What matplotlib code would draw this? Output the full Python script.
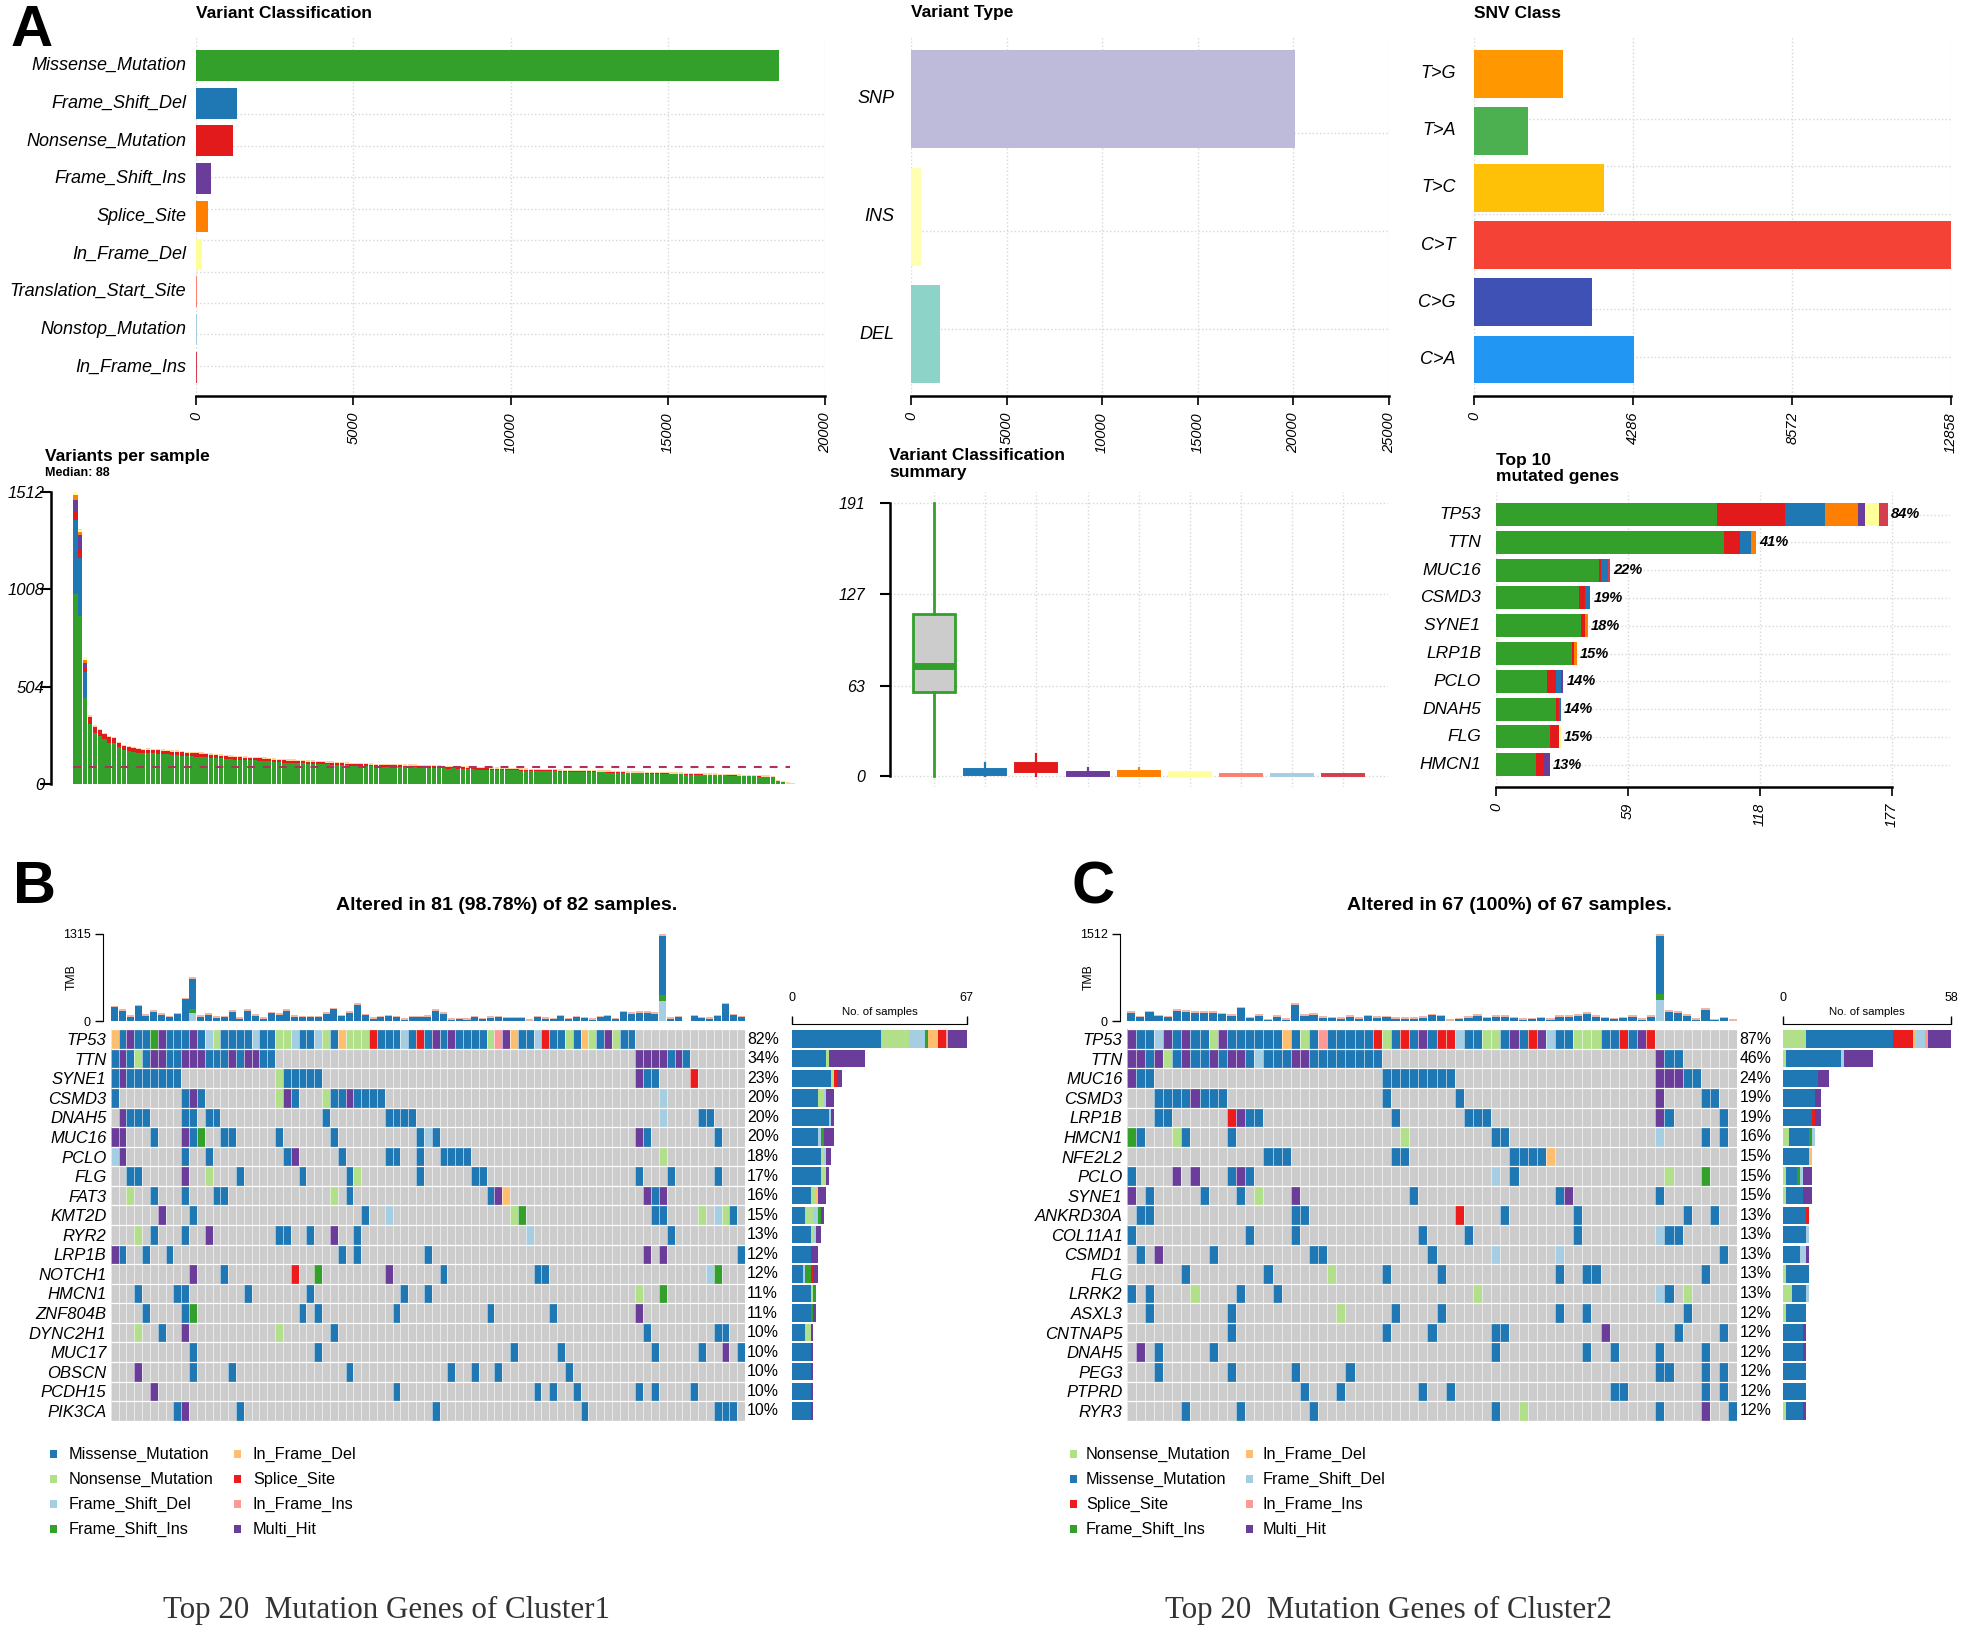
import numpy as np
import matplotlib
matplotlib.use("Agg")
import matplotlib.pyplot as plt
from matplotlib.colors import ListedColormap
from matplotlib.patches import Rectangle

plt.rcParams['font.family'] = ['Liberation Sans', 'DejaVu Sans']

W, H = 1965, 1636

# top row
class_names = ["Missense_Mutation", "Frame_Shift_Del", "Nonsense_Mutation", "Frame_Shift_Ins", "Splice_Site",
               "In_Frame_Del", "Translation_Start_Site", "Nonstop_Mutation", "In_Frame_Ins"]
class_values = [18550, 1294, 1190, 466, 380, 190, 30, 20, 25]
class_colors = ["#33A02C", "#1F78B4", "#E31A1C", "#6A3D9A", "#FF7F00", "#FFFF99", "#FB8072", "#A6CEE3", "#D53E4F"]
type_names = ["SNP", "INS", "DEL"]
type_values = [20100, 507, 1520]
type_colors = ["#BEBADA", "#FFFFB3", "#8DD3C7"]
snv_names = ["T>G", "T>A", "T>C", "C>T", "C>G", "C>A"]
snv_values = [2389, 1456, 3490, 12858, 3172, 4311]
snv_colors = ["#FF9800", "#4CAF50", "#FFC107", "#F44336", "#3F51B5", "#2196F3"]

# variants per sample
var_total = [1512, 1315, 655, 353, 300, 283, 262, 245, 241, 215,
             200, 193, 188, 183, 180, 182, 180, 178, 176, 175,
             172, 172, 168, 165, 163, 162, 160, 158, 155, 152,
             150, 148, 145, 142, 142, 140, 138, 138, 136, 135,
             133, 130, 128, 126, 125, 124, 122, 122, 120, 120,
             118, 116, 115, 114, 113, 112, 110, 108, 106, 105,
             105, 104, 103, 102, 101, 100, 100, 100, 99, 98,
             98, 97, 96, 95, 95, 94, 92, 90, 92, 91,
             90, 88, 87, 86, 85, 85, 84, 83, 82, 82,
             80, 80, 79, 78, 77, 76, 75, 75, 74, 74,
             73, 72, 72, 71, 71, 70, 70, 69, 68, 68,
             67, 66, 65, 64, 63, 63, 62, 62, 61, 60,
             60, 59, 59, 58, 57, 57, 56, 55, 54, 54,
             53, 52, 52, 51, 50, 49, 48, 47, 46, 45,
             44, 43, 42, 41, 38, 20, 12, 5, 2]
var_missense = [981, 871, 447, 312, 262, 248, 232, 214, 210, 190,
                178, 170, 165, 160, 158, 160, 158, 156, 155, 154,
                150, 152, 147, 144, 143, 142, 141, 139, 137, 134,
                132, 130, 127, 125, 125, 123, 122, 122, 120, 119,
                117, 114, 112, 110, 110, 109, 107, 107, 105, 105,
                104, 102, 101, 100, 99, 98, 96, 95, 93, 92,
                92, 91, 90, 89, 88, 88, 88, 88, 87, 86,
                86, 85, 84, 83, 83, 83, 81, 79, 81, 80,
                79, 77, 76, 75, 75, 75, 74, 73, 72, 72,
                70, 70, 69, 68, 68, 67, 66, 66, 65, 65,
                64, 63, 63, 62, 62, 62, 62, 61, 60, 60,
                59, 58, 57, 56, 55, 55, 55, 55, 54, 53,
                53, 52, 52, 51, 50, 50, 49, 48, 48, 48,
                47, 46, 46, 45, 44, 43, 42, 41, 40, 40,
                39, 38, 37, 36, 34, 18, 11, 4, 1]
top3_fsdel = [384, 300, 131]
top3_nonsense = [43, 39, 20]
top3_fsins = [61, 78, 26]
top3_splice = [26, 17, 17]
top3_ifd = [17, 10, 14]

# classification summary boxes, same order as class_names
box_q1 = [58.6, 0.5, 2.6, 0, 0, 0, 0, 0, 0]
box_med = [77, 2, 5.8, 1, 1, 1, 0.5, 0.5, 0.5]
box_q3 = [113.5, 4.7, 9, 2.6, 3.3, 2.8, 1.4, 1.4, 1.4]
box_lo = [0, 0, 0, 0, 0, 0, 0, 0, 0]
box_hi = [191, 9, 15.4, 5.4, 5.4, 2.8, 1.4, 1.4, 1.4]

# top 10 genes
top_genes = ["TP53", "TTN", "MUC16", "CSMD3", "SYNE1", "LRP1B", "PCLO", "DNAH5", "FLG", "HMCN1"]
top_missense = [99, 102, 46, 37, 38, 34, 23, 27, 24, 18]
top_nonsense = [30, 7, 1, 3, 2, 1, 4, 1, 4, 3]
top_fsdel = [18, 5, 3, 2, 0, 0, 2, 1, 0, 0]
top_splice = [15, 2, 0, 0, 1, 1, 0, 0, 0, 0]
top_fsins = [3, 0, 0, 0, 0, 0, 1, 0, 0, 3]
top_ifd = [6, 0, 0, 0, 0, 0, 0, 0, 1, 0]
top_ifi = [4, 0, 1, 0, 0, 0, 0, 0, 0, 0]
top_pct = ["84%", "41%", "22%", "19%", "18%", "15%", "14%", "14%", "15%", "13%"]

# oncoplot cluster 1
genes_b = ["TP53", "TTN", "SYNE1", "CSMD3", "DNAH5", "MUC16", "PCLO", "FLG", "FAT3", "KMT2D", "RYR2", "LRP1B",
           "NOTCH1", "HMCN1", "ZNF804B", "DYNC2H1", "MUC17", "OBSCN", "PCDH15", "PIK3CA"]
pct_b = ["82%", "34%", "23%", "20%", "20%", "20%", "18%", "17%", "16%", "15%", "13%", "12%", "12%", "11%", "11%",
         "10%", "10%", "10%", "10%", "10%"]
rows_b = [
    "0F 1M 2H 3M 4M 5I 6H 7M 8M 9M 10H 11M 12D 13N 14M 15M 16M 17M 18D 19M 20M 21N 22N 23D 24M 25M 26D 27N 28M "
    "29F 30N 31N 32N 33S 34M 35M 36M 37D 38M 39S 40M 41H 42M 43H 44M 45M 46M 47M 48N 49R 50H 51F 52M 53M 54D 55S "
    "56M 57M 58N 59M 60F 61N 62M 63H 64N 65M 66M",
    "0M 1H 2M 3N 4M 5H 6H 7M 8M 9H 10H 11H 12M 13M 14M 15H 16M 17H 18H 19M 20M 67H 68H 69H 70H 71M 72H 73M",
    "0M 1H 2M 3M 4M 5M 6M 7M 8M 21N 22M 23M 24M 25M 26M 67H 68M 69M 74S",
    "0M 9M 10H 11M 21N 22H 23M 27N 28M 29M 30H 31M 32M 33M 34M 70D",
    "1H 2M 3M 4M 9M 10M 12M 13M 27M 35M 36M 37M 38M 70D 75M 76M",
    "0H 1H 5M 9H 10M 11I 14M 15M 21M 28M 39M 40D 41M 67H 68M 77M",
    "0D 1H 9M 12M 22M 23H 29M 35M 36M 39M 42M 43M 44M 45M 70N",
    "2M 3M 9H 12N 16M 24M 30M 31N 39M 46M 47M 67M 71M 77M",
    "2N 5M 9M 13M 14M 28N 30M 48M 49H 50F 68H 69M 70H",
    "6H 10M 32M 35D 51N 52I 69M 70M 75N 77D 78N 79M",
    "3N 5M 9M 12H 21M 22M 25M 28H 31M 53D 71M",
    "0H 1M 4M 7M 29M 31M 40M 68H 70H 80M",
    "10H 14M 23S 26I 35H 42M 54M 55M 76D 77I",
    "3M 8M 9M 17M 25M 37M 40M 67N 70I",
    "4M 9M 10I 24M 26M 36M 48M 56M 67H",
    "3N 6M 9H 21N 28M 68M 77M 78M",
    "10M 26M 51M 57M 69M 75M 78H 80M",
    "3H 10M 15M 30M 43M 46M 49M 58M",
    "5H 36M 54M 56M 59M 67M 69M 74M",
    "8M 9H 16M 41M 60M 77M 78M 79M",
]
order_b = "MNDIFSRH"
tmb_b = [227, 181, 86, 242, 101, 161, 116, 76, 121, 348, 660, 86, 116, 71, 81, 161, 55, 176, 101, 60,
         141, 116, 181, 86, 81, 81, 81, 131, 197, 96, 146, 267, 106, 55, 76, 91, 81, 40, 76, 76,
         86, 181, 131, 45, 50, 45, 76, 50, 71, 76, 66, 66, 66, 25, 81, 55, 50, 96, 50, 81,
         66, 40, 76, 91, 50, 156, 136, 151, 146, 136, 1315, 55, 81, 5, 91, 66, 55, 91, 277, 106, 81]
tmb_b_base = {10: (126, 50), 70: (300, 90)}

# oncoplot cluster 2
genes_c = ["TP53", "TTN", "MUC16", "CSMD3", "LRP1B", "HMCN1", "NFE2L2", "PCLO", "SYNE1", "ANKRD30A", "COL11A1",
           "CSMD1", "FLG", "LRRK2", "ASXL3", "CNTNAP5", "DNAH5", "PEG3", "PTPRD", "RYR3"]
pct_c = ["87%", "46%", "24%", "19%", "19%", "16%", "15%", "15%", "15%", "13%", "13%", "13%", "13%", "13%", "12%",
         "12%", "12%", "12%", "12%", "12%"]
rows_c = [
    "0H 1M 2M 3D 4H 5M 6H 7M 8M 9N 10H 11M 12M 13M 14M 15M 16M 17F 18M 19N 20M 21R 22M 23M 24M 25M 26M 27S 28N "
    "29M 30S 31M 32H 33M 34S 35S 36D 37M 38M 39N 40N 41M 42H 43M 44S 45H 46D 47M 48M 49N 50N 51N 52M 53M 54S 55M "
    "56H 57S",
    "0H 1H 2M 3H 4N 5M 6H 7M 8M 9H 10M 11H 12H 13M 14D 15M 16M 17M 18H 19H 20M 21M 22M 23M 24M 25M 26M 27M 58H "
    "59M 60M",
    "0H 1M 2M 28M 29M 30M 31M 32M 33M 34M 35M 58H 59H 60H 61M 62M",
    "3M 4M 5M 6M 7H 8M 9M 10M 28M 36M 58H 63M 64M",
    "3M 4M 11S 12H 13M 14M 29M 37M 38M 39M 58H 59M 65M",
    "0I 1M 5N 6M 11M 30N 40M 41M 58D 63M 65M",
    "15M 16M 17M 29M 30M 42M 43M 44M 45M 46F",
    "0M 5H 7H 11M 12H 13M 40D 42M 59N 63I",
    "0H 2M 8M 12M 14N 18H 31M 47M 48H 58M",
    "1M 2M 18M 19M 36S 41M 49M 61M 64M",
    "0M 13M 18M 32M 37M 49M 58D 59M 60M",
    "1M 3H 9M 20M 21M 33M 40D 47D 65M",
    "6M 15M 22N 28M 34M 47M 50M 51M 63M",
    "0M 2M 7N 12M 16M 38N 58D 59M 61N",
    "2M 11M 23N 29M 34M 47M 50M 61M",
    "11M 28M 33M 40M 41M 52H 60M 65M",
    "1H 3M 9M 40M 50M 53M 58M 63M",
    "3M 11M 18M 24M 58M 59M 63M 65M",
    "19M 23M 32M 35M 53M 54M 63M 65M",
    "6M 12M 20M 40M 43N 58M 63H 66M",
]
order_c = "NMSIFDRH"
tmb_c = [172, 92, 178, 109, 92, 201, 190, 167, 172, 172, 144, 115, 247, 75, 115, 35, 98, 52, 305, 121,
         132, 86, 75, 69, 98, 69, 109, 80, 92, 69, 69, 63, 86, 126, 109, 29, 58, 80, 115, 75,
         98, 103, 75, 46, 58, 75, 46, 103, 103, 115, 150, 103, 75, 58, 75, 98, 52, 98, 1512,
         184, 172, 115, 46, 218, 35, 75, 29]
tmb_c_base = {58: (373, 96)}

code_colors = {"M": "#1F78B4", "N": "#B2DF8A", "D": "#A6CEE3", "I": "#33A02C", "F": "#FDBF6F",
               "S": "#EC1C1C", "R": "#FB9A99", "H": "#6A3D9A"}
code_names = {"M": "Missense_Mutation", "N": "Nonsense_Mutation", "D": "Frame_Shift_Del", "I": "Frame_Shift_Ins",
              "F": "In_Frame_Del", "S": "Splice_Site", "R": "In_Frame_Ins", "H": "Multi_Hit"}
legend_b = ["M", "N", "D", "I", "F", "S", "R", "H"]
legend_c = ["N", "M", "S", "I", "F", "D", "R", "H"]

fig = plt.figure(figsize=(W / 100, H / 100), dpi=100)
GRID = dict(color="#D8D8D8", linestyle=":", linewidth=1.0, zorder=0)


def px_axes(l, t, r, b):
    return fig.add_axes([l / W, 1 - b / H, (r - l) / W, (b - t) / H])


def ftext(x, y, s, **kw):
    kw.setdefault("va", "center")
    return fig.text(x / W, 1 - y / H, s, **kw)


def clean(ax, keep=()):
    for name, sp in ax.spines.items():
        sp.set_visible(name in keep)


def italic_ticks(ax, size=10.5):
    for t in ax.get_xticklabels() + ax.get_yticklabels():
        t.set_fontstyle("italic")
        t.set_fontsize(size)


def hbar_panel(l, r, xmax, ticks, names, values, colors, first, step, height, hgrid, label_x, title):
    ax = px_axes(l, 37, r, 396)
    y = np.arange(len(names))
    ax.set_xlim(0, xmax)
    ax.set_ylim((396 - first) / step, (37 - first) / step)
    for g in hgrid:
        ax.axhline((g - first) / step, **GRID)
    for t in ticks:
        ax.axvline(t, **GRID)
    ax.barh(y, values, height=height / step, color=colors, zorder=2)
    clean(ax, ["bottom"])
    ax.spines["bottom"].set_linewidth(1.8)
    ax.set_xticks(ticks)
    ax.tick_params(axis="x", length=6.5, width=1.2, labelrotation=90, pad=5)
    italic_ticks(ax)
    ax.set_yticks([])
    for i, name in enumerate(names):
        ftext(label_x, first + step * i, name, ha="right", style="italic", size=13)
    ftext(l, 13, title, weight="bold", size=12.5)
    return ax


hbar_panel(196, 825, 20000, [0, 5000, 10000, 15000, 20000], class_names, class_values, class_colors,
           65.5, 37.7, 31, [114, 145.7, 177, 209, 240, 272, 303, 334, 366], 186, "Variant Classification")
hbar_panel(911, 1388.6, 25000, [0, 5000, 10000, 15000, 20000, 25000], type_names, type_values, type_colors,
           98.8, 117.7, 98, [133, 231, 329], 894, "Variant Type")
hbar_panel(1474.5, 1951, 12858, [0, 4286, 8572, 12858], snv_names, snv_values, snv_colors,
           73.8, 57.1, 47.5, [119, 166, 213.7, 261.7, 309.3, 356.7], 1456, "SNV Class")

# variants per sample
ax = px_axes(73, 491.7, 795, 784)
x = np.arange(len(var_total)) + 0.5
total = np.array(var_total, dtype=float)
miss = np.array(var_missense, dtype=float)
ax.bar(x, miss, width=0.88, color="#33A02C", zorder=2)
ax.bar(x, total - miss, bottom=miss, width=0.88, color="#E31A1C", zorder=2)
ax.bar(x, 7, bottom=total - 4, width=0.88, color="#FDD49E", zorder=3)
bottom = miss[:3].copy()
for seg, col in zip([top3_fsdel, top3_nonsense, top3_fsins, top3_splice, top3_ifd],
                    ["#1F78B4", "#E31A1C", "#6A3D9A", "#FF7F00", "#FFFF99"]):
    ax.bar(x[:3], seg, bottom=bottom, width=0.88, color=col, zorder=4)
    bottom = bottom + np.array(seg)
ax.plot([0, 148], [88, 88], color="#B03060", lw=1.5, linestyle=(0, (3.8, 3.8)), zorder=5)
ax.set_xlim(0, 149)
ax.set_ylim(0, 1512)
clean(ax, ["left"])
ax.spines["left"].set_position(("outward", 15.5))
ax.spines["left"].set_linewidth(1.8)
ax.set_xticks([])
ax.set_yticks([0, 504, 1008, 1512])
ax.tick_params(axis="y", length=7.8, width=1.5, pad=-3)
italic_ticks(ax, 12)
ftext(45, 456, "Variants per sample", weight="bold", size=12.5)
ftext(45, 473, "Median: 88", weight="bold", size=9)

# classification summary
ax = px_axes(890, 492, 1388, 787)
ax.set_xlim(0.14, 9.87)
ax.set_ylim(-7.7, 198.7)
for t in range(1, 10):
    ax.axvline(t, **GRID)
for t in [0, 63, 127, 191]:
    ax.axhline(t, **GRID)
stats = [dict(q1=a, med=b, q3=c, whislo=d, whishi=e, fliers=[])
         for a, b, c, d, e in zip(box_q1, box_med, box_q3, box_lo, box_hi)]
parts = ax.bxp(stats, positions=range(1, 10), widths=0.82, patch_artist=True, showcaps=False, showfliers=False,
               manage_ticks=False, zorder=3)
for i, col in enumerate(class_colors):
    parts["boxes"][i].set(facecolor="#CCCCCC" if i == 0 else col, edgecolor=col, linewidth=2 if i == 0 else 1.4)
    parts["medians"][i].set(color=col, linewidth=5 if i == 0 else 1.4)
    for w in parts["whiskers"][2 * i:2 * i + 2]:
        w.set(color=col, linewidth=2 if i == 0 else 1.6)
clean(ax, ["left"])
ax.spines["left"].set_bounds(0, 191)
ax.spines["left"].set_linewidth(1.8)
ax.set_xticks([])
ax.set_yticks([0, 63, 127, 191])
ax.tick_params(axis="y", length=7, width=1.5, pad=11)
italic_ticks(ax, 11.5)
ftext(889, 456, "Variant Classification", weight="bold", size=12.5)
ftext(889, 472, "summary", weight="bold", size=12.5)

# top 10 genes
ax = px_axes(1496, 492, 1950, 786.7)
step = 27.8
ax.set_xlim(0, 177 * (1950 - 1496) / (1892 - 1496))
ax.set_ylim((786.7 - 514.5) / step, (492 - 514.5) / step)
y = np.arange(len(top_genes))
for t in [0, 59, 118, 177]:
    ax.axvline(t, **GRID)
for v in y:
    ax.axhline(v, **GRID)
left = np.zeros(len(top_genes))
for seg, col in zip([top_missense, top_nonsense, top_fsdel, top_splice, top_fsins, top_ifd, top_ifi],
                    ["#33A02C", "#E31A1C", "#1F78B4", "#FF7F00", "#6A3D9A", "#FFFF99", "#D53E4F"]):
    ax.barh(y, seg, left=left, height=23 / step, color=col, zorder=2)
    left = left + np.array(seg)
for i, s in enumerate(top_pct):
    ax.text(left[i] + 1.5, i, s, style="italic", weight="bold", size=10.5, va="center", zorder=4)
clean(ax, ["bottom"])
ax.spines["bottom"].set_bounds(0, 177)
ax.spines["bottom"].set_linewidth(1.8)
ax.set_xticks([0, 59, 118, 177])
ax.set_yticks([])
ax.tick_params(axis="x", length=6.5, width=1.2, labelrotation=90, pad=5)
italic_ticks(ax)
for i, g in enumerate(top_genes):
    ftext(1481, 514.5 + step * i, g, ha="right", style="italic", size=12.5)
ftext(1496, 460.7, "Top 10", weight="bold", size=12.5)
ftext(1496, 477, "mutated genes", weight="bold", size=12.5)


def oncoplot(l, r, axis_x, tmb_label_x, bar_l, bar_r, genes, pct, rows, order, tmb, tmb_base, title, title_x):
    n_col = len(tmb)
    codes = list("MNDIFSRH")
    mat = np.zeros((len(genes), n_col), dtype=int)
    for i, row in enumerate(rows):
        for tok in row.split():
            mat[i, int(tok[:-1])] = codes.index(tok[-1]) + 1
    cmap = ListedColormap(["#CCCCCC"] + [code_colors[c] for c in codes])

    ax = px_axes(l, 1029.3, r, 1420.7)
    ax.pcolormesh(mat, cmap=cmap, vmin=0, vmax=8)
    ax.vlines(np.arange(n_col + 1), 0, len(genes), color="white", linewidth=0.4)
    ax.hlines(np.arange(len(genes) + 1), 0, n_col, color="white", linewidth=0.9)
    ax.set_xlim(0, n_col)
    ax.set_ylim(len(genes), 0)
    clean(ax)
    ax.set_xticks([])
    ax.set_yticks(np.arange(len(genes)) + 0.5)
    ax.set_yticklabels(genes, style="italic", size=12)
    ax.tick_params(axis="y", length=0, pad=3)
    for i, s in enumerate(pct):
        ftext(r + 2, 1029.3 + (i + 0.5) * 19.57, s, size=11.4)

    # TMB on top
    ax = px_axes(l, 934, r, 1021)
    xs = np.arange(n_col) + 0.5
    ymax = max(tmb)
    ax.bar(xs, tmb, width=0.9, color=code_colors["M"], zorder=2)
    cap = ymax / 87 * 1.5
    ax.bar(xs, cap, bottom=np.array(tmb) - cap, width=0.9, color="#EDB7A8", zorder=3)
    for col, (d, ins) in tmb_base.items():
        ax.bar(xs[col], d, width=0.9, color=code_colors["D"], zorder=4)
        ax.bar(xs[col], ins, bottom=d, width=0.9, color=code_colors["I"], zorder=4)
    ax.set_xlim(0, n_col)
    ax.set_ylim(0, ymax)
    clean(ax, ["left"])
    ax.spines["left"].set_position(("outward", (l - axis_x) * 0.72))
    ax.set_xticks([])
    ax.set_yticks([0, ymax])
    ax.tick_params(axis="y", length=5.8, width=1, labelsize=9, pad=3)
    ftext(tmb_label_x, 977, "TMB", rotation=90, ha="center", size=8.8)

    # no. of samples
    ax = px_axes(bar_l, 1029.3, bar_r, 1420.7)
    counts = [[np.sum(mat[i] == codes.index(c) + 1) for c in order] for i in range(len(genes))]
    counts = np.array(counts)
    xmax = counts[0].sum()
    before = np.zeros(len(genes))
    for j, c in enumerate(order):
        ax.barh(np.arange(len(genes)) + 0.5, counts[:, j], left=before, height=0.89, color=code_colors[c])
        before = before + counts[:, j]
    ax.set_xlim(0, xmax)
    ax.set_ylim(len(genes), 0)
    clean(ax, ["top"])
    ax.spines["top"].set_position(("outward", 3.5))
    ax.xaxis.tick_top()
    ax.set_xticks([0, xmax])
    ax.tick_params(axis="x", length=6, width=1, labelsize=9, pad=8.5)
    ax.set_yticks([])
    ftext((bar_l + bar_r) / 2, 1012, "No. of samples", ha="center", size=8.2)

    ftext(title_x, 906, title, ha="center", weight="bold", size=14)


oncoplot(110.7, 745, 103, 72, 792.3, 966.7, genes_b, pct_b, rows_b, order_b, tmb_b, tmb_b_base,
         "Altered in 81 (98.78%) of 82 samples.", 507)
oncoplot(1126.7, 1737.3, 1120, 1089, 1783, 1951, genes_c, pct_c, rows_c, order_c, tmb_c, tmb_c_base,
         "Altered in 67 (100%) of 67 samples.", 1509)


def legend(items, mark1, text1, mark2, text2):
    ys = [1454, 1479, 1504, 1529]
    for i, c in enumerate(items):
        mx, tx = (mark1, text1) if i < 4 else (mark2, text2)
        yy = ys[i % 4]
        fig.add_artist(Rectangle(((mx - 3.5) / W, 1 - (yy + 4) / H), 7 / W, 8 / H, transform=fig.transFigure,
                                 color=code_colors[c], linewidth=0))
        ftext(tx, yy, code_names[c], size=11.7)


legend(legend_b, 54, 69, 238, 253)
legend(legend_c, 1073, 1086, 1249, 1263)

ftext(163, 1610, "Top 20  Mutation Genes of Cluster1", family="Liberation Serif", size=22.3, color="#333333")
ftext(1165, 1610, "Top 20  Mutation Genes of Cluster2", family="Liberation Serif", size=22.3, color="#333333")

ftext(32, 31, "A", ha="center", weight="bold", size=42)
ftext(35, 888, "B", ha="center", weight="bold", size=43)
ftext(1093, 888, "C", ha="center", weight="bold", size=43)

fig.savefig("out.png", dpi=100, facecolor="white")
